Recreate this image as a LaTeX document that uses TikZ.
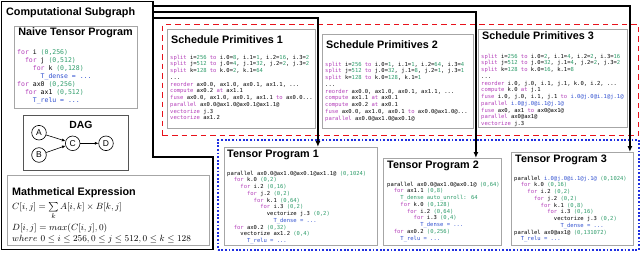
\documentclass[tikz,border=0pt]{standalone}
\usepackage[no-math]{fontspec}
\usepackage{xcolor}
\usepackage{tikz}
\usepackage{amsmath,amssymb}
\usetikzlibrary{arrows.meta,positioning}
\newfontfamily\sansfam{Liberation Sans}
\newfontfamily\codefam{DejaVu Sans Mono}
\definecolor{Kw}{HTML}{B23CB8}
\definecolor{Num}{HTML}{2E9C6A}
\definecolor{Var}{HTML}{2F4FCF}
\definecolor{Frame}{HTML}{A6A6A6}
\definecolor{Dag}{HTML}{555555}
\definecolor{Sched}{HTML}{E8111B}
\definecolor{Prog}{HTML}{1F2FE0}
\newcommand{\kw}[1]{\textcolor{Kw}{#1}}
\newcommand{\nm}[1]{\textcolor{Num}{#1}}
\newcommand{\tv}[1]{\textcolor{Var}{#1}}
\newcommand{\ind}[1]{\hspace*{#1\fontdimen2\font}}
\begin{document}
\begin{tikzpicture}[x=1pt,y=-1pt,
  panel/.style={draw=Frame,line width=0.9pt,inner sep=0,anchor=north west},
  head/.style={font=\sansfam\bfseries\fontsize{10.8}{12}\selectfont,inner sep=0},
  code/.style={font=\codefam\fontsize{5.5}{6.75}\selectfont,align=left,inner sep=0,anchor=north west},
  eqn/.style={font=\fontsize{9.4}{11}\selectfont,inner sep=0,anchor=base west},
  dagnode/.style={circle,draw,line width=0.6pt,minimum size=14.6pt,inner sep=0,font=\sansfam\fontsize{8.5}{10}\selectfont},
  flow/.style={line width=1.2pt,-{Latex[length=6pt,width=5pt]}}]
  \useasboundingbox (0,0) rectangle (640,252);
  \node[draw=Sched,line width=1.4pt,dash pattern=on 5.5pt off 4pt,inner sep=0,anchor=north west,minimum width=476,minimum height=111] (sched) at (162,24) {};
  \node[draw=Prog,line width=1.6pt,dash pattern=on 1.8pt off 1.8pt,inner sep=0,anchor=north west,minimum width=421,minimum height=110] (prog) at (217,139) {};

  \node[head,anchor=west] (cstitle) at (6,13) {Computational Subgraph};
  \node[panel,minimum width=123,minimum height=82] (naive) at (14,26) {};
  \node[head] (naivetitle) at (75.5,33) {Naive Tensor Program};
  \node[code,font=\codefam\fontsize{6.5}{8}\selectfont] (naivecode) at (17,49) {%
    \kw{for} i \nm{(0,256)}\\
    \ind{2}\kw{for} j \nm{(0,512)}\\
    \ind{4}\kw{for} k \nm{(0,128)}\\
    \ind{6}\tv{T\_dense = ...}\\
    \kw{for} ax0 \nm{(0,256)}\\
    \ind{2}\kw{for} ax1 \nm{(0,512)}\\
    \ind{4}\tv{T\_relu = ...}};

  \node[panel,draw=Dag,minimum width=105,minimum height=55] (dag) at (23,115) {};
  \node[head,font=\sansfam\bfseries\fontsize{10.4}{12}\selectfont] (dagtitle) at (81,125) {DAG};
  \node[dagnode] (a) at (39,132.7) {A};
  \node[dagnode] (b) at (39,155) {B};
  \node[dagnode] (c) at (72.7,143.3) {C};
  \node[dagnode] (d) at (106,143.3) {D};
  \foreach \u/\v in {a/c,b/c,c/d}
    \draw[line width=0.6pt,-{Latex[length=3.5pt,width=3pt]}] (\u) -- (\v);

  \node[panel,minimum width=202,minimum height=70] (math) at (7,175) {};
  \node[head,anchor=west] (mathtitle) at (12,192.5) {Mathmetical Expression};
  \node[eqn] (eq1) at (12,209.5) {$C[i,j] = \sum\limits_{k} A[i,k] \times B[k,j]$};
  \node[eqn] (eq2) at (12,230) {$D[i,j] = max(C[i,j],0)$};
  \node[eqn] (eq3) at (12,241) {$where\ 0 \le i \le 256, 0 \le j \le 512, 0 \le k \le 128$};

  \node[panel,minimum width=148,minimum height=99] (sp1) at (167,29) {};
  \node[head,anchor=west] (sp1title) at (171,39.5) {Schedule Primitives 1};
  \node[code] (sp1code) at (170,54.6) {%
    \kw{split} i=\nm{256} \kw{to} i.0=\nm{8}, i.1=\nm{1}, i.2=\nm{16}, i.3=\nm{2}\\
    \kw{split} j=\nm{512} \kw{to} j.0=\nm{4}, j.1=\nm{32}, j.2=\nm{2}, j.3=\nm{2}\\
    \kw{split} k=\nm{128} \kw{to} k.0=\nm{2}, k.1=\nm{64}\\
    ...\\
    \kw{reorder} ax0.0, ax1.0, ax0.1, ax1.1, ...\\
    \kw{compute} ax0.2 \kw{at} ax1.1\\
    \kw{fuse} ax0.0, ax1.0, ax0.1, ax1.1 \kw{to} ax0.0...\\
    \kw{parallel} ax0.0@ax1.0@ax0.1@ax1.1@\\
    \kw{vectorize} j.3\\
    \kw{vectorize} ax1.2};

  \node[panel,minimum width=151,minimum height=94] (sp2) at (322,34) {};
  \node[head,anchor=west] (sp2title) at (326,45) {Schedule Primitives 2};
  \node[code] (sp2code) at (325,61.6) {%
    \kw{split} i=\nm{256} \kw{to} i.0=\nm{1}, i.1=\nm{1}, i.2=\nm{64}, i.3=\nm{4}\\
    \kw{split} j=\nm{512} \kw{to} j.0=\nm{32}, j.1=\nm{8}, j.2=\nm{1}, j.3=\nm{1}\\
    \kw{split} k=\nm{128} \kw{to} k.0=\nm{128}, k.1=\nm{1}\\
    ...\\
    \kw{reorder} ax0.0, ax1.0, ax0.1, ax1.1, ...\\
    \kw{compute} ax1.1 \kw{at} ax0.1\\
    \kw{compute} ax0.2 \kw{at} ax0.1\\
    \kw{fuse} ax0.0, ax1.0, ax0.1 \kw{to} ax0.0@ax1.0@...\\
    \kw{parallel} ax0.0@ax1.0@ax0.1@};

  \node[panel,minimum width=149,minimum height=98] (sp3) at (478,29) {};
  \node[head,anchor=west] (sp3title) at (482,36) {Schedule Primitives 3};
  \node[code] (sp3code) at (481,53.6) {%
    \kw{split} i=\nm{256} \kw{to} i.0=\nm{2}, i.1=\nm{4}, i.2=\nm{2}, i.3=\nm{16}\\
    \kw{split} j=\nm{512} \kw{to} j.0=\nm{32}, j.1=\nm{4}, j.2=\nm{2}, j.3=\nm{2}\\
    \kw{split} k=\nm{128} \kw{to} k.0=\nm{16}, k.1=\nm{8}\\
    ...\\
    \kw{reorder} i.0, j.0, i.1, j.1, k.0, i.2, ...\\
    \kw{compute} k.0 \kw{at} j.1\\
    \kw{fuse} i.0, j.0, i.1, j.1 \kw{to} \tv{i.0@j.0@i.1@j.1@}\\
    \kw{parallel} \tv{i.0@j.0@i.1@j.1@}\\
    \kw{fuse} ax0, ax1 \kw{to} ax0@ax1@\\
    \kw{parallel} ax0@ax1@\\
    \kw{vectorize} j.3};

  \node[panel,minimum width=153,minimum height=98] (tp1) at (224,147) {};
  \node[head,anchor=west] (tp1title) at (227,155) {Tensor Program 1};
  \node[code] (tp1code) at (227,170.6) {%
    parallel ax0.0@ax1.0@ax0.1@ax1.1@ \nm{(0,1024)}\\
    \ind{2}\kw{for} k.0 \nm{(0,2)}\\
    \ind{4}\kw{for} i.2 \nm{(0,16)}\\
    \ind{6}\kw{for} j.2 \nm{(0,2)}\\
    \ind{8}\kw{for} k.1 \nm{(0,64)}\\
    \ind{10}\kw{for} i.3 \nm{(0,2)}\\
    \ind{12}vectorize j.3 \nm{(0,2)}\\
    \ind{14}\tv{T\_dense = ...}\\
    \ind{2}\kw{for} ax0.2 \nm{(0,32)}\\
    \ind{4}vectorize ax1.2 \nm{(0,4)}\\
    \ind{6}\tv{T\_relu = ...}};

  \node[panel,minimum width=118,minimum height=87] (tp2) at (383,158) {};
  \node[head,anchor=west] (tp2title) at (387,166) {Tensor Program 2};
  \node[code] (tp2code) at (387,181.6) {%
    parallel ax0.0@ax1.0@ax0.1@ \nm{(0,64)}\\
    \ind{2}\kw{for} ax1.1 \nm{(0,8)}\\
    \ind{4}\nm{T\_dense auto\_unroll: 64}\\
    \ind{4}\kw{for} k.0 \nm{(0,128)}\\
    \ind{6}\kw{for} i.2 \nm{(0,64)}\\
    \ind{8}\kw{for} i.3 \nm{(0,4)}\\
    \ind{10}\tv{T\_dense = ...}\\
    \ind{2}\kw{for} ax0.2 \nm{(0,256)}\\
    \ind{4}\tv{T\_relu = ...}};

  \node[panel,minimum width=122,minimum height=93] (tp3) at (511,152) {};
  \node[head,anchor=west] (tp3title) at (515,160) {Tensor Program 3};
  \node[code] (tp3code) at (514,175.6) {%
    parallel \tv{i.0@j.0@i.1@j.1@} \nm{(0,1024)}\\
    \ind{2}\kw{for} k.0 \nm{(0,16)}\\
    \ind{4}\kw{for} i.2 \nm{(0,2)}\\
    \ind{6}\kw{for} j.2 \nm{(0,2)}\\
    \ind{8}\kw{for} k.1 \nm{(0,8)}\\
    \ind{10}\kw{for} i.3 \nm{(0,16)}\\
    \ind{12}vectorize j.3 \nm{(0,2)}\\
    \ind{14}\tv{T\_dense = ...}\\
    parallel ax0@ax1@ \nm{(0,131072)}\\
    \ind{2}\tv{T\_relu = ...}};

  \draw[line width=1.4pt] (1.5,1.5) -- (153,1.5) -- (153,157) -- (213,157) -- (213,249.5) -- (1.5,249.5) -- cycle;
  \foreach \i/\y in {1/18,2/12,3/6} {
    \coordinate (cs\i) at (153,\y);
    \draw[flow] (cs\i) -| ([xshift=2pt]sp\i.east |- tp\i.north);
  }
\end{tikzpicture}
\end{document}
